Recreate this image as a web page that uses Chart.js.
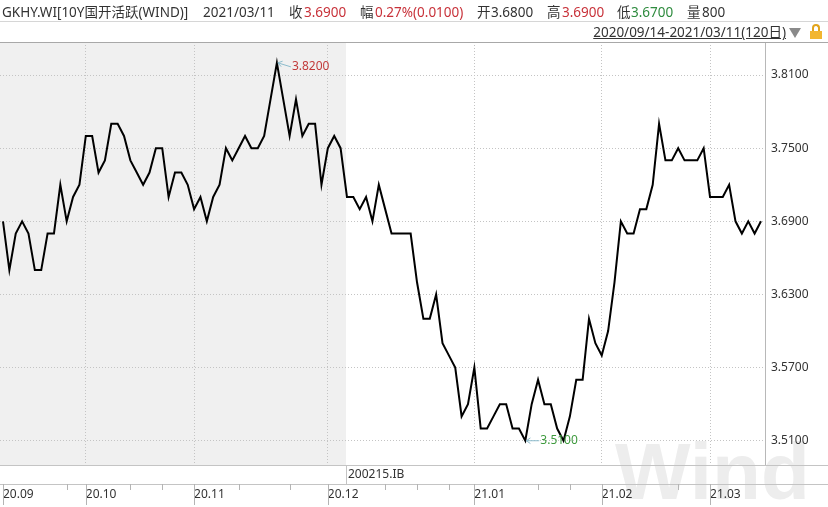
<!DOCTYPE html>
<html><head><meta charset="utf-8">
<script src="https://cdn.jsdelivr.net/npm/chart.js@4.4.1/dist/chart.umd.min.js"></script>
<style>
html,body{margin:0;padding:0;background:#fff;}
#wrap{position:relative;width:828px;height:507px;overflow:hidden;font-family:'Noto Sans','Noto Sans CJK SC',sans-serif;}
#c{position:absolute;left:0;top:0;}
.t{position:absolute;font-size:13.5px;line-height:16px;color:#333;white-space:nowrap;}
.r{color:#c8323a}.g{color:#2e8b3e}
.tri{position:absolute;left:789px;top:28px;width:0;height:0;border-left:6px solid transparent;border-right:6px solid transparent;border-top:10px solid #8a8a8a;}
.lk1{position:absolute;left:812px;top:24px;width:4px;height:6px;border:2px solid #e2a41c;border-bottom:none;border-radius:4px 4px 0 0;}
.lk2{position:absolute;left:810px;top:31px;width:12px;height:8px;background:#f2b630;}
</style></head><body>
<div id="wrap">
<canvas id="c" width="828" height="507"></canvas>
<div class="t" style="left:2px;top:4px">GKHY.WI[10Y国开活跃(WIND)]</div>
<div class="t" style="left:203px;top:4px">2021/03/11</div>
<div class="t" style="left:289px;top:4px">收</div>
<div class="t r" style="left:304px;top:4px">3.6900</div>
<div class="t" style="left:360px;top:4px">幅</div>
<div class="t r" style="left:375px;top:4px">0.27%(0.0100)</div>
<div class="t" style="left:477px;top:4px">开</div>
<div class="t" style="left:491px;top:4px">3.6800</div>
<div class="t" style="left:547px;top:4px">高</div>
<div class="t r" style="left:562px;top:4px">3.6900</div>
<div class="t" style="left:617px;top:4px">低</div>
<div class="t g" style="left:631px;top:4px">3.6700</div>
<div class="t" style="left:687px;top:4px">量</div>
<div class="t" style="left:702px;top:4px">800</div>
<div class="t" style="right:42px;top:24px;text-decoration:underline;">2020/09/14-2021/03/11(120日)</div>
<div class="tri"></div>
<div class="lk1"></div><div class="lk2"></div>
</div>
<script>
// 10Y CDB active bond yield, 120 trading days 2020/09/14 - 2021/03/11
const yields = [
 3.69,3.65,3.68,3.69,3.68,3.65,3.65,3.68,3.68,3.72,
 3.69,3.71,3.72,3.76,3.76,3.73,3.74,3.77,3.77,3.76,
 3.74,3.73,3.72,3.73,3.75,3.75,3.71,3.73,3.73,3.72,
 3.70,3.71,3.69,3.71,3.72,3.75,3.74,3.75,3.76,3.75,
 3.75,3.76,3.79,3.82,3.79,3.76,3.79,3.76,3.77,3.77,
 3.72,3.75,3.76,3.75,3.71,3.71,3.70,3.71,3.69,3.72,
 3.70,3.68,3.68,3.68,3.68,3.64,3.61,3.61,3.63,3.59,
 3.58,3.57,3.53,3.54,3.57,3.52,3.52,3.53,3.54,3.54,
 3.52,3.52,3.51,3.54,3.56,3.54,3.54,3.52,3.51,3.53,
 3.56,3.56,3.61,3.59,3.58,3.60,3.64,3.69,3.68,3.68,
 3.70,3.70,3.72,3.77,3.74,3.74,3.75,3.74,3.74,3.74,
 3.75,3.71,3.71,3.71,3.72,3.69,3.68,3.69,3.68,3.69
];
const monthLabels = ['20.09','20.10','20.11','20.12','21.01','21.02','21.03'];
const monthStartIdx = [0,13,30,51,74,94,111];
const minorTickIdx = [10,20,25,37,45,60,65,70,84,89,106];
const yTicks = [3.51,3.57,3.63,3.69,3.75,3.81];
const bondSwitchIdx = 54;
const bondLabel = '200215.IB';

const maxVal = Math.max(...yields), minVal = Math.min(...yields);
const maxIdx = yields.indexOf(maxVal), minIdx = yields.indexOf(minVal);

const FONT = "'Noto Sans','Noto Sans CJK SC',sans-serif";

function hline(ctx,y,x1,x2,color){ctx.strokeStyle=color;ctx.lineWidth=1;ctx.beginPath();ctx.moveTo(x1,y);ctx.lineTo(x2,y);ctx.stroke();}
function vline(ctx,x,y1,y2,color){ctx.strokeStyle=color;ctx.lineWidth=1;ctx.beginPath();ctx.moveTo(x,y1);ctx.lineTo(x,y2);ctx.stroke();}

function annotate(ctx,px,py,lx,ly,text,color){
  ctx.strokeStyle='#8cbccc';ctx.lineWidth=1;
  ctx.beginPath();ctx.moveTo(px+1,py);ctx.lineTo(lx-1,ly);ctx.stroke();
  const ang=Math.atan2(ly-py,lx-px);
  ctx.beginPath();
  ctx.moveTo(px+1+5*Math.cos(ang-0.6),py+5*Math.sin(ang-0.6));
  ctx.lineTo(px+1,py);
  ctx.lineTo(px+1+5*Math.cos(ang+0.6),py+5*Math.sin(ang+0.6));
  ctx.stroke();
  ctx.fillStyle=color;ctx.font='12px '+FONT;ctx.textBaseline='middle';ctx.textAlign='left';
  ctx.fillText(text,lx,ly);
}

const windPlugin = {
  id:'wind',
  beforeDraw(chart){
    const {ctx,chartArea:a,scales:{x}}=chart;
    ctx.save();
    ctx.fillStyle='#fff';ctx.fillRect(0,0,chart.width,chart.height);
    const sx=Math.round(x.getPixelForValue(bondSwitchIdx))-1;
    ctx.fillStyle='#f0f0f0';ctx.fillRect(a.left,a.top,sx-a.left,a.bottom-a.top);
    ctx.fillStyle='#ededed';ctx.font="bold 80px 'Liberation Sans',sans-serif";
    ctx.textBaseline='alphabetic';ctx.textAlign='left';
    ctx.fillText('Wind',615,499);
    ctx.restore();
  },
  afterDraw(chart){
    const {ctx,chartArea:a,scales:{x,y}}=chart;
    const W=chart.width;
    ctx.save();
    hline(ctx,21.5,0,W,'#d6d6d6');
    hline(ctx,42.5,0,W,'#a8a8a8');
    hline(ctx,a.bottom+0.5,0,W,'#c4c4c4');
    hline(ctx,484.5,0,W,'#c4c4c4');
    const sx=Math.round(x.getPixelForValue(bondSwitchIdx))-1;
    vline(ctx,sx+0.5,a.bottom,484,'#c4c4c4');
    ctx.fillStyle='#333';ctx.font='12px '+FONT;ctx.textBaseline='middle';ctx.textAlign='left';
    ctx.fillText(bondLabel,sx+2,475);
    monthStartIdx.forEach(i=>{vline(ctx,Math.round(x.getPixelForValue(i))+0.5,484,505,'#b4b4b4');});
    minorTickIdx.forEach(i=>{vline(ctx,Math.round(x.getPixelForValue(i))+0.5,484,490,'#b4b4b4');});
    const mx=x.getPixelForValue(maxIdx), my=y.getPixelForValue(maxVal);
    annotate(ctx,mx,my,mx+15,my+4,maxVal.toFixed(4),'#c23a3a');
    const nx=x.getPixelForValue(minIdx), ny=y.getPixelForValue(minVal);
    annotate(ctx,nx,ny,nx+15,ny,minVal.toFixed(4),'#3d9a3d');
    ctx.restore();
  }
};

new Chart(document.getElementById('c'),{
  type:'line',
  data:{datasets:[{
    data:yields.map((v,i)=>({x:i,y:v})),
    borderColor:'#000',borderWidth:2,pointRadius:0,tension:0,fill:false
  }]},
  options:{
    responsive:false,animation:false,devicePixelRatio:1,
    layout:{padding:{top:42,left:0,right:0,bottom:0}},
    plugins:{legend:{display:false},tooltip:{enabled:false}},
    scales:{
      x:{type:'linear',min:-0.47,max:119.63,
        afterBuildTicks:s=>{s.ticks=monthStartIdx.map(v=>({value:v}));},
        afterFit:s=>{s.height=42;s.paddingLeft=0;s.paddingRight=0;},
        grid:{color:c=>(c.tick&&c.tick.value===0)?'rgba(0,0,0,0)':'#c4c4c4',drawTicks:false,lineWidth:1},
        border:{display:false,dash:[1,2]},
        ticks:{align:'start',padding:22,autoSkip:false,maxRotation:0,color:'#333',
          font:{family:FONT,size:12},
          callback:v=>monthLabels[monthStartIdx.indexOf(v)]}
      },
      y:{position:'right',min:3.4901,max:3.8371,
        afterBuildTicks:s=>{s.ticks=yTicks.map(v=>({value:v}));},
        afterFit:s=>{s.width=63;s.paddingTop=0;s.paddingBottom=0;},
        grid:{color:'#c4c4c4',drawTicks:false,lineWidth:1},
        border:{display:true,color:'#b8b8b8',dash:[1,2]},
        ticks:{padding:6,color:'#333',font:{family:FONT,size:12},callback:v=>Number(v).toFixed(4)}
      }
    }
  },
  plugins:[windPlugin]
});
</script>
</body></html>
